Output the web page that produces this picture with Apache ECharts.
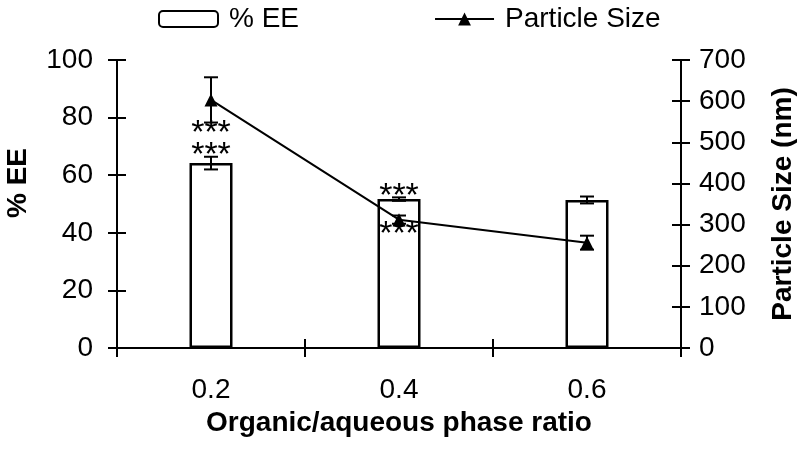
<!DOCTYPE html>
<html>
<head>
<meta charset="utf-8">
<script src="https://cdn.jsdelivr.net/npm/echarts@6/dist/echarts.min.js"></script>
<style>
  html, body { margin: 0; padding: 0; background: #fff; }
  #chart { width: 799px; height: 450px; }
</style>
</head>
<body>
<div id="chart"></div>
<script>
// data
const ratios = ['0.2', '0.4', '0.6'];
const eeValues = [64.2, 51.7, 51.4];
const eeErrors = [2.2, 0.6, 1.2];
const sizeValues = [603, 312, 256];
const sizeErrors = [55, 10, 17];
const eeSig = ['***', '***', ''];
const sizeSig = ['***', '***', ''];
const eeTicks = { min: 0, max: 100, interval: 20 };
const sizeTicks = { min: 0, max: 700, interval: 100 };

const FONT = "'Liberation Sans', Arial, sans-serif";

const chart = echarts.init(document.getElementById('chart'));

// error bar + significance stars, drawn through the axis scales
function errorRenderer(values, errors, stars, starsAbove) {
  return function (params, api) {
    const i = api.value(0);
    const top = api.coord([i, values[i] + errors[i]]);
    const bottom = api.coord([i, values[i] - errors[i]]);
    const half = 7;
    const style = { stroke: '#000', lineWidth: 2 };
    const children = [
      { type: 'line', shape: { x1: top[0], y1: top[1], x2: bottom[0], y2: bottom[1] }, style },
      { type: 'line', shape: { x1: top[0] - half, y1: top[1], x2: top[0] + half, y2: top[1] }, style },
      { type: 'line', shape: { x1: bottom[0] - half, y1: bottom[1], x2: bottom[0] + half, y2: bottom[1] }, style }
    ];
    if (stars[i]) {
      const y = starsAbove ? top[1] - 1 : bottom[1] + 11;
      children.push({
        type: 'text',
        style: {
          x: top[0], y: y,
          text: stars[i],
          fill: '#000',
          font: '34px ' + FONT,
          align: 'center',
          verticalAlign: 'middle'
        }
      });
    }
    return { type: 'group', children };
  };
}

const axisLine = { lineStyle: { color: '#000', width: 2 } };
const tickStyle = { color: '#000', width: 2 };

const option = {
  animation: false,
  backgroundColor: '#fff',
  textStyle: { fontFamily: FONT },
  grid: { left: 117, right: 118, top: 60, bottom: 102, containLabel: false, outerBoundsMode: 'none' },
  legend: {
    left: 153,
    top: 0,
    itemWidth: 59,
    itemHeight: 16,
    itemGap: 135,
    textStyle: { color: '#000', fontSize: 28, fontFamily: FONT, padding: [0, 0, 0, 6] },
    data: ['% EE', 'Particle Size']
  },
  xAxis: [
    {
      type: 'category',
      data: ratios,
      axisLine: axisLine,
      axisTick: { show: true, length: 9, lineStyle: tickStyle },
      axisLabel: { color: '#000', fontSize: 28, fontFamily: FONT, margin: 28 },
      name: 'Organic/aqueous phase ratio',
      nameLocation: 'middle',
      nameGap: 55,
      nameTextStyle: { color: '#000', fontSize: 28, fontWeight: 'bold', fontFamily: FONT }
    },
    {
      type: 'category',
      data: ratios,
      position: 'bottom',
      axisLine: { show: false },
      axisTick: { show: true, inside: true, length: 9, lineStyle: tickStyle },
      axisLabel: { show: false }
    }
  ],
  yAxis: [
    {
      type: 'value',
      position: 'left',
      ...eeTicks,
      axisLine: { show: true, ...axisLine },
      axisTick: { show: true, length: 9, lineStyle: tickStyle },
      axisLabel: { color: '#000', fontSize: 28, fontFamily: FONT, margin: 24 },
      splitLine: { show: false },
      name: '% EE',
      nameLocation: 'middle',
      nameGap: 85,
      nameRotate: 90,
      nameTextStyle: { color: '#000', fontSize: 28, fontWeight: 'bold', fontFamily: FONT, padding: [0, 0, 0, 42] }
    },
    {
      type: 'value',
      position: 'right',
      ...sizeTicks,
      axisLine: { show: true, ...axisLine },
      axisTick: { show: true, length: 9, lineStyle: tickStyle },
      axisLabel: { color: '#000', fontSize: 28, fontFamily: FONT, margin: 18 },
      splitLine: { show: false },
      name: 'Particle Size (nm)',
      nameLocation: 'middle',
      nameGap: 88,
      nameRotate: 90,
      nameTextStyle: { color: '#000', fontSize: 28, fontWeight: 'bold', fontFamily: FONT }
    },
    {
      type: 'value',
      position: 'left',
      ...eeTicks,
      axisLine: { show: false },
      axisTick: { show: true, inside: true, length: 9, lineStyle: tickStyle },
      axisLabel: { show: false },
      splitLine: { show: false }
    },
    {
      type: 'value',
      position: 'right',
      ...sizeTicks,
      axisLine: { show: false },
      axisTick: { show: true, inside: true, length: 9, lineStyle: tickStyle },
      axisLabel: { show: false },
      splitLine: { show: false }
    }
  ],
  series: [
    {
      name: '% EE',
      type: 'bar',
      data: eeValues,
      barWidth: 43,
      itemStyle: { color: '#fff', borderColor: '#000', borderWidth: 2.5 },
      z: 2
    },
    {
      name: 'EE error',
      type: 'custom',
      data: ratios.map((r, i) => [i]),
      renderItem: errorRenderer(eeValues, eeErrors, eeSig, true),
      z: 3
    },
    {
      name: 'Particle Size',
      type: 'line',
      yAxisIndex: 1,
      data: sizeValues,
      symbol: 'triangle',
      symbolSize: 13,
      itemStyle: { color: '#000' },
      lineStyle: { color: '#000', width: 2 },
      z: 5
    },
    {
      name: 'Size error',
      type: 'custom',
      yAxisIndex: 1,
      data: ratios.map((r, i) => [i]),
      renderItem: errorRenderer(sizeValues, sizeErrors, sizeSig, false),
      z: 4
    }
  ]
};

chart.setOption(option);
</script>
</body>
</html>
